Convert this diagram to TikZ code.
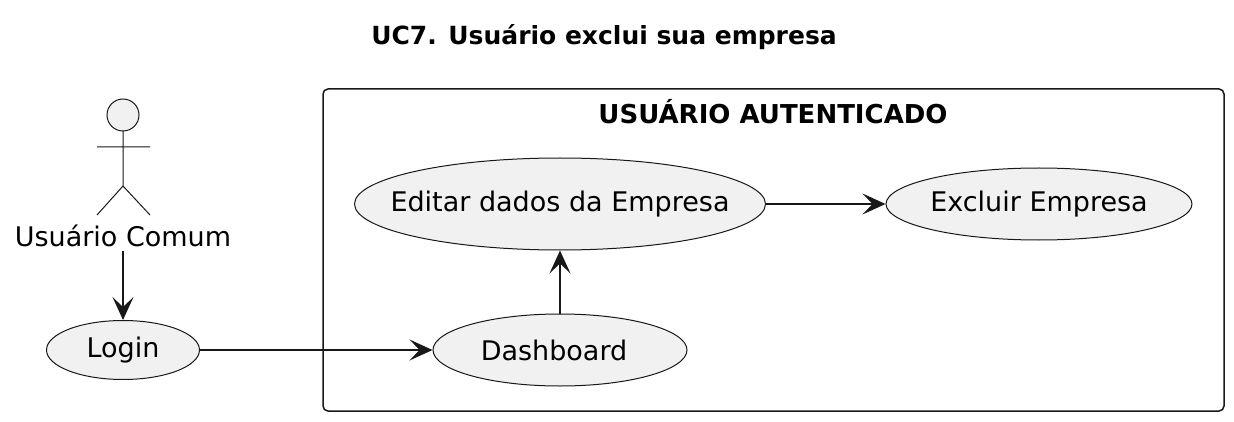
\documentclass[tikz,border=0pt]{standalone}
\usepackage{fontspec}
\setmainfont{DejaVu Sans}
\usetikzlibrary{shapes.geometric,arrows.meta}
\definecolor{fillg}{HTML}{F1F1F1}
\definecolor{ink}{HTML}{181818}
\tikzset{x=1pt,y=-1pt,
 uc/.style={ellipse,draw=ink,fill=fillg,line width=1pt,inner sep=0pt,text=black,font=\fontsize{27}{32}\selectfont},
 arr/.style={draw=ink,line width=1.5pt,-{Stealth[length=23pt,width=21pt,inset=10pt,fill=ink]}},
 lab/.style={inner sep=0pt,text=black},
 stick/.style={draw=ink,line width=1pt}}
\newcommand{\uctext}[2][0pt]{\makebox[0pt][c]{\hspace*{#1}#2}}
\begin{document}
\begin{tikzpicture}
\useasboundingbox (0,0) rectangle (1234,422);
\node[lab,font=\bfseries\fontsize{25}{30}\selectfont] (title) at (604,37) {UC7. Usuário exclui sua empresa};
\draw[ink,line width=1.5pt,rounded corners=5pt] (323,89) rectangle (1224,411);
\node[lab,font=\bfseries\fontsize{26}{31}\selectfont] (pack) at (773,112) {USUÁRIO AUTENTICADO};
\node[uc,minimum width=411pt,minimum height=92pt] (edit) at (560,204) {\uctext{Editar dados da Empresa}};
\node[uc,minimum width=306pt,minimum height=72pt] (exc) at (1039,204) {\uctext{Excluir Empresa}};
\node[uc,minimum width=254pt,minimum height=72pt] (dash) at (560,350) {\uctext[-12pt]{Dashboard}};
\node[uc,minimum width=153pt,minimum height=59pt] (login) at (123,350) {\uctext{Login}};
\draw[stick,fill=fillg] (123,115) circle (16);
\draw[stick] (123,131) -- (123,186) (97,147) -- (150,147) (97,215) -- (123,186) -- (150,215);
\node[lab,font=\fontsize{27}{32}\selectfont] (actor) at (123,236) {Usuário Comum};
\coordinate (actorfoot) at (123,251);
\draw[arr] (actorfoot) -- (login);
\draw[arr] (login) -- (dash);
\draw[arr] (dash) -- (edit);
\draw[arr] (edit) -- (exc);
\end{tikzpicture}
\end{document}
